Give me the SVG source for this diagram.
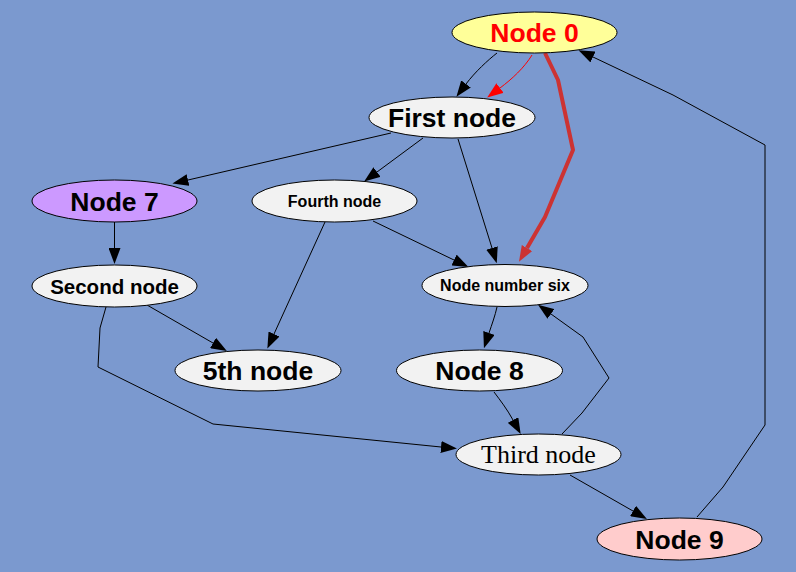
<svg xmlns="http://www.w3.org/2000/svg" width="796" height="572" viewBox="0 0 796 572">
<style>
.n ellipse{stroke:#000;stroke-width:1}
.w{fill:#f2f2f2}
text{font-family:"Liberation Sans",Arial,sans-serif;font-weight:bold;text-anchor:middle;fill:#000}
.big{font-size:26.5px}
.mid{font-size:20.5px}
.sm{font-size:16px}
.serif{font-family:"Liberation Serif","Times New Roman",serif;font-weight:normal;font-size:26px}
.e path{fill:none;stroke:#000;stroke-width:1}
.e path.blk{marker-end:url(#ah)}
</style>
<defs>
<marker id="ah" viewBox="0 0 16 12" refX="0" refY="6" markerWidth="16" markerHeight="12" markerUnits="userSpaceOnUse" orient="auto"><path d="M0,0 L16,6 L0,12 z" fill="#000"/></marker>
<marker id="ahr" viewBox="0 0 16 12" refX="0" refY="6" markerWidth="16" markerHeight="12" markerUnits="userSpaceOnUse" orient="auto"><path d="M0,0 L16,6 L0,12 z" fill="#ff0000"/></marker>
<marker id="ahd" viewBox="0 0 16 12" refX="0" refY="6" markerWidth="16" markerHeight="12" markerUnits="userSpaceOnUse" orient="auto"><path d="M0,0 L16,6 L0,12 z" fill="#cc3333"/></marker>
</defs>
<rect x="0" y="0" width="796" height="572" fill="#7b99cf"/>
<g id="edges" class="e">
<path class="blk" d="M497,53 C488,60 475,72 466,84"/>
<path d="M532,55 C524,68 512,79 500,88" style="stroke:#ff0000;marker-end:url(#ahr)"/>
<path d="M545,53 L558,80 L573,150 L545,217 L527,248" style="stroke:#cc3333;stroke-width:4;stroke-linejoin:round;marker-end:url(#ahd)"/>
<path class="blk" d="M697,517 L723,487 L765,425 L765,145 L673,95 L593,57"/>
<path class="blk" d="M391,133 L188,180"/>
<path class="blk" d="M423,138 L377,172"/>
<path class="blk" d="M458,139 L492,248"/>
<path class="blk" d="M373,221 L454,260"/>
<path class="blk" d="M325,222 L274,334"/>
<path class="blk" d="M114.5,222 L114.5,248"/>
<path class="blk" d="M147,305 L213,343"/>
<path class="blk" d="M106,307 L100,328 L98,367 L213,424 L441,447"/>
<path class="blk" d="M497,307 C495,316 492,324 489,333"/>
<path class="blk" d="M494,392 C500,400 507,409 513,420"/>
<path class="blk" d="M562,434 L582,413 L609,378 L583,337 L551,314"/>
<path class="blk" d="M570,475 L633,511"/>
</g>
<g id="node0" class="n"><ellipse cx="534.5" cy="32.5" rx="82.5" ry="20.5" fill="#ffff99"/><text class="big" x="534.5" y="42" style="fill:#ff0000">Node 0</text></g>
<g id="node1" class="n"><ellipse class="w" cx="452" cy="117.5" rx="83" ry="20.5"/><text class="big" x="452" y="127">First node</text></g>
<g id="node7" class="n"><ellipse cx="114.5" cy="201" rx="82.5" ry="21" fill="#cc99ff"/><text class="big" x="114.5" y="210.5">Node 7</text></g>
<g id="node4" class="n"><ellipse class="w" cx="334.5" cy="201" rx="82.5" ry="21"/><text class="sm" x="334.5" y="206.7">Fourth node</text></g>
<g id="node2" class="n"><ellipse class="w" cx="114.5" cy="286" rx="82.5" ry="21"/><text class="mid" x="114.5" y="293.5">Second node</text></g>
<g id="node6" class="n"><ellipse class="w" cx="505" cy="285.5" rx="83" ry="21"/><text class="sm" x="505" y="291.2">Node number six</text></g>
<g id="node5" class="n"><ellipse class="w" cx="258" cy="370.5" rx="83" ry="20.5"/><text class="big" x="258" y="380">5th node</text></g>
<g id="node8" class="n"><ellipse class="w" cx="479.5" cy="370.5" rx="83" ry="20.5"/><text class="big" x="479.5" y="380">Node 8</text></g>
<g id="node3" class="n"><ellipse class="w" cx="538.5" cy="454.5" rx="82.5" ry="20.5"/><text class="serif" x="538.5" y="463.3">Third node</text></g>
<g id="node9" class="n"><ellipse cx="679.5" cy="539" rx="82.5" ry="21" fill="#ffcccc"/><text class="big" x="679.5" y="548.5">Node 9</text></g>
</svg>
